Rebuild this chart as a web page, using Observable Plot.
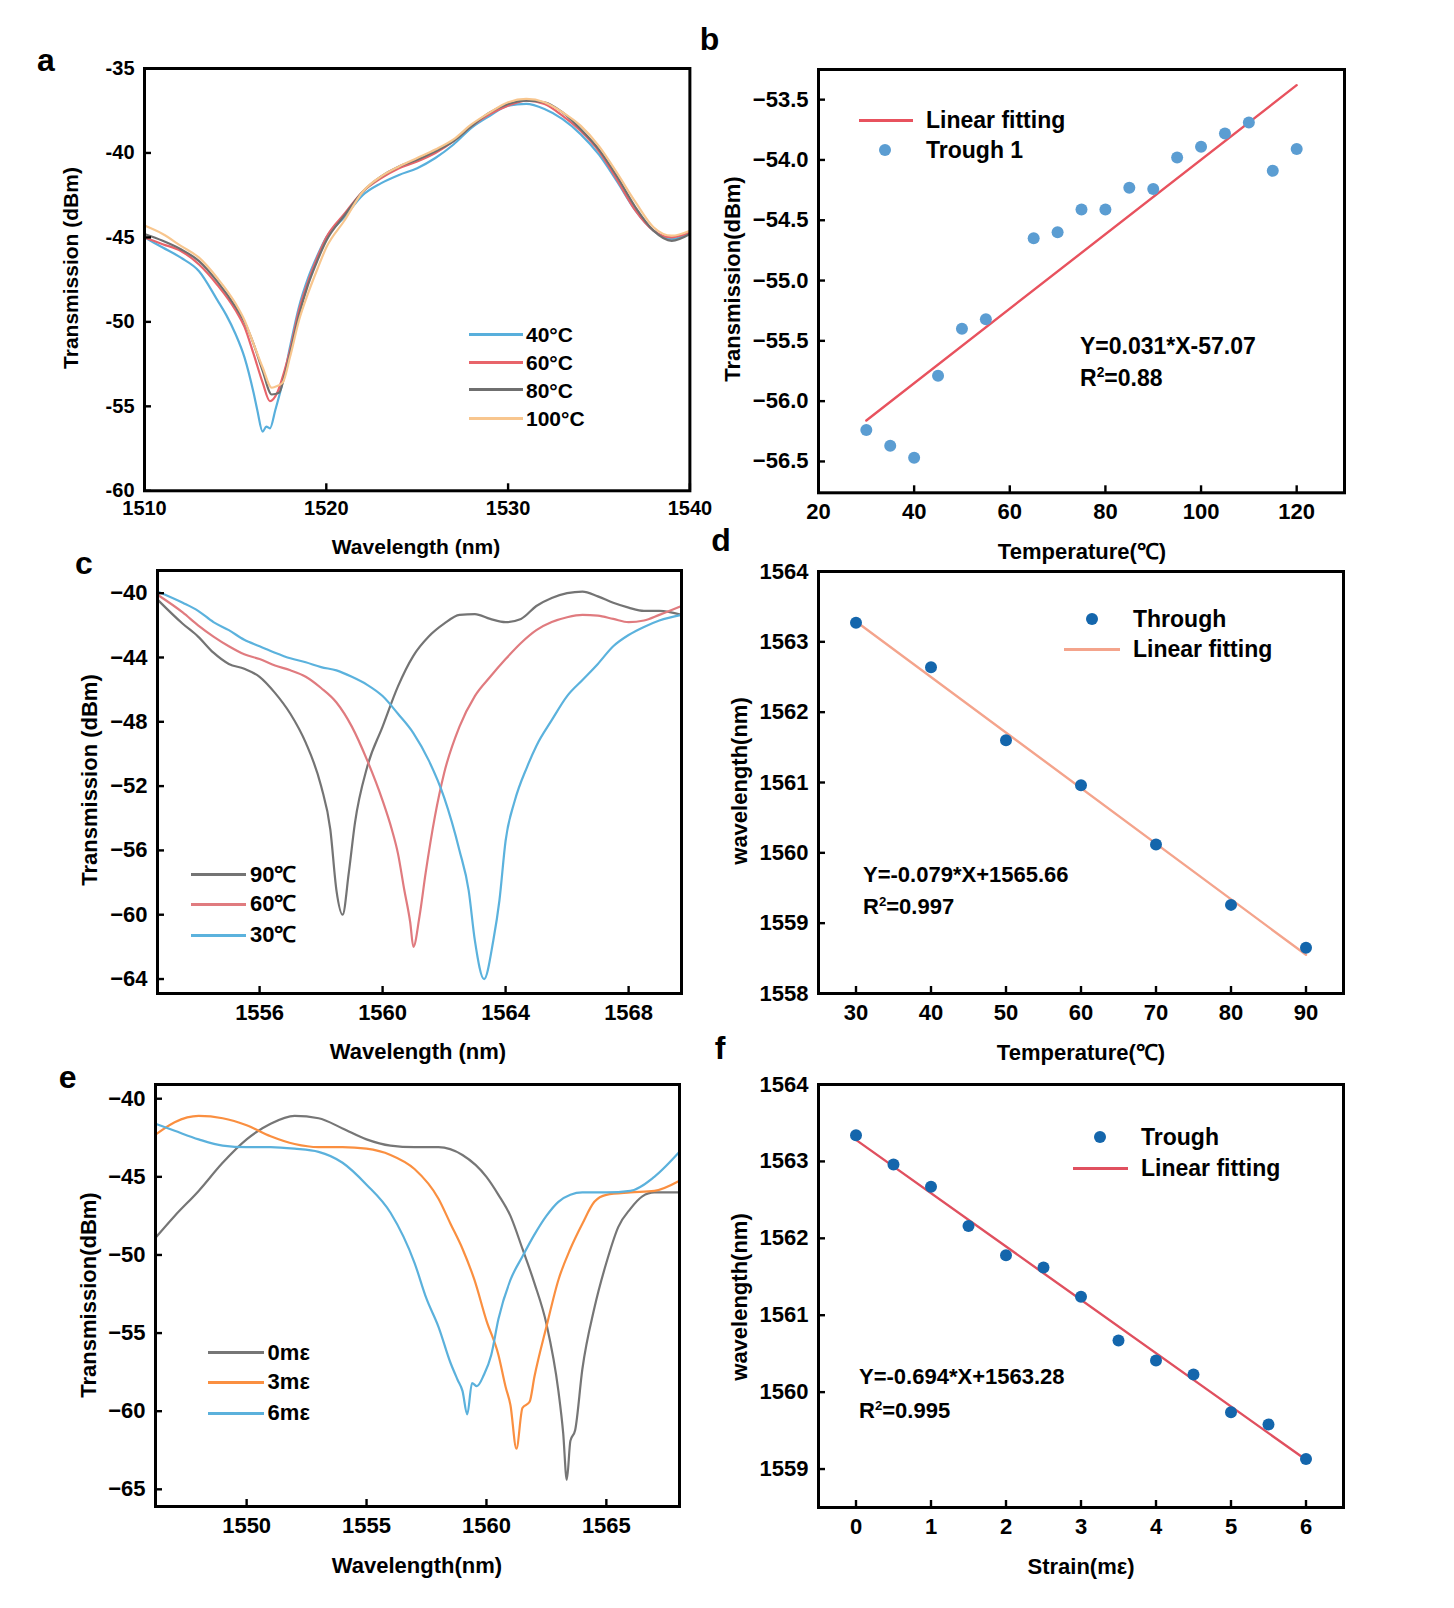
<!DOCTYPE html>
<html><head><meta charset="utf-8">
<script src="https://cdn.jsdelivr.net/npm/d3@7"></script>
<script src="https://cdn.jsdelivr.net/npm/@observablehq/plot@0.6"></script>
<style>
body{margin:0;background:#fff;}
#root{position:relative;width:1454px;height:1608px;overflow:hidden;font-family:"Liberation Sans",Arial,sans-serif;font-weight:bold;color:#000;}
.abs{position:absolute;white-space:nowrap;line-height:1;}
sup{font-size:0.6em;vertical-align:0.6em;line-height:0;}
</style></head><body><div id="root"></div>
<script>
// ---------- Panel a : spectra vs temperature ----------
const a40X = [1510,1511,1512,1513,1514,1514.5,1515,1515.5,1516,1516.2,1516.5,1516.7,1516.9,1517.2,1517.5,1517.7,1518,1518.5,1519,1519.5,1520,1521,1522,1523,1524,1525,1526,1527,1528,1529,1530,1531,1532,1533,1534,1535,1536,1537,1538,1539,1540];
const a40Y = [-45.0,-45.6,-46.2,-47.0,-48.7,-49.6,-50.7,-52.1,-54.2,-55.2,-56.5,-56.2,-56.3,-55.2,-54.0,-53.1,-51.5,-49.1,-47.4,-46.1,-45.0,-43.8,-42.5,-41.8,-41.3,-40.9,-40.3,-39.5,-38.5,-37.8,-37.2,-37.1,-37.4,-38.0,-38.9,-40.1,-41.7,-43.4,-44.6,-45.1,-44.7];
const a60X = [1510,1511,1512,1513,1514,1515,1515.5,1516,1516.5,1516.9,1517.3,1517.7,1518,1518.5,1519,1519.5,1520,1521,1522,1523,1524,1525,1526,1527,1528,1529,1530,1531,1532,1533,1534,1535,1536,1537,1538,1539,1540];
const a60Y = [-45.0,-45.4,-45.8,-46.6,-47.8,-49.3,-50.3,-51.9,-53.6,-54.7,-54.2,-52.9,-51.7,-49.3,-47.6,-46.2,-45.0,-43.6,-42.3,-41.5,-40.9,-40.5,-40.0,-39.3,-38.4,-37.7,-37.2,-36.9,-37.1,-37.8,-38.7,-39.9,-41.6,-43.4,-44.6,-45.0,-44.7];
const a80X = [1510,1511,1512,1513,1514,1515,1515.5,1516,1516.5,1517,1517.4,1517.7,1518,1518.5,1519,1519.5,1520,1521,1522,1523,1524,1525,1526,1527,1528,1529,1530,1531,1532,1533,1534,1535,1536,1537,1538,1539,1540];
const a80Y = [-44.8,-45.2,-45.7,-46.4,-47.6,-49.1,-50.0,-51.3,-52.9,-54.3,-54.2,-53.2,-51.9,-49.6,-47.8,-46.4,-45.2,-43.7,-42.3,-41.4,-40.8,-40.4,-39.9,-39.3,-38.4,-37.6,-37.1,-36.9,-37.0,-37.6,-38.6,-39.8,-41.4,-43.2,-44.6,-45.2,-44.8];
const a100X = [1510,1511,1512,1513,1514,1515,1515.5,1516,1516.5,1517,1517.3,1517.6,1518,1518.5,1519,1519.5,1520,1521,1522,1523,1524,1525,1526,1527,1528,1529,1530,1531,1532,1533,1534,1535,1536,1537,1538,1539,1540];
const a100Y = [-44.3,-44.8,-45.5,-46.2,-47.4,-48.9,-49.9,-51.3,-52.7,-53.9,-53.8,-53.6,-52.1,-49.9,-48.3,-46.9,-45.6,-44.0,-42.3,-41.4,-40.8,-40.3,-39.8,-39.2,-38.3,-37.6,-37.0,-36.8,-37.0,-37.6,-38.4,-39.6,-41.2,-42.9,-44.4,-44.9,-44.6];
const aLegend = ["40°C","60°C","80°C","100°C"];
const aXTicks = [1510,1520,1530,1540];
const aYTicks = [-60,-55,-50,-45,-40,-35];

// ---------- Panel b : trough 1 transmission vs temperature ----------
const bTemp = [30,35,40,45,50,55,65,70,75,80,85,90,95,100,105,110,115,120];
const bTrans = [-56.24,-56.37,-56.47,-55.79,-55.40,-55.32,-54.65,-54.60,-54.41,-54.41,-54.23,-54.24,-53.98,-53.89,-53.78,-53.69,-54.09,-53.91];
const bFitX = [30,120];
const bFitY = [-56.16,-53.38];
const bXTicks = [20,40,60,80,100,120];
const bYTicks = [-56.5,-56.0,-55.5,-55.0,-54.5,-54.0,-53.5];

// ---------- Panel c : spectra vs temperature ----------
const c90X = [1552.68,1553.5,1554,1554.5,1555,1555.5,1556,1556.5,1557,1557.5,1558,1558.3,1558.5,1558.7,1558.9,1559.1,1559.5,1560,1560.5,1561,1561.5,1562,1562.5,1563,1563.5,1564,1564.5,1565,1565.5,1566,1566.5,1567,1567.5,1568,1568.5,1569,1569.72];
const c90Y = [-40.4,-41.9,-42.7,-43.7,-44.4,-44.7,-45.2,-46.2,-47.5,-49.3,-52.0,-54.7,-58.5,-60.0,-57.4,-54.3,-50.8,-48.3,-45.8,-43.9,-42.7,-41.9,-41.35,-41.3,-41.6,-41.8,-41.6,-40.8,-40.3,-40.0,-39.9,-40.2,-40.6,-40.9,-41.1,-41.1,-41.35];
const c60X = [1552.68,1553.5,1554,1554.5,1555,1555.5,1556,1556.5,1557,1557.5,1558,1558.5,1559,1559.5,1560,1560.3,1560.5,1560.7,1560.9,1561.0,1561.2,1561.4,1561.7,1562,1562.5,1563,1563.5,1564,1564.5,1565,1565.5,1566,1566.5,1567,1567.5,1568,1568.5,1569,1569.72];
const c60Y = [-40.1,-41.2,-42.0,-42.7,-43.3,-43.8,-44.1,-44.5,-44.8,-45.2,-45.9,-46.8,-48.3,-50.4,-52.9,-54.7,-56.2,-58.4,-60.5,-62.0,-60.1,-57.4,-53.9,-51.2,-48.3,-46.4,-45.2,-44.1,-43.1,-42.3,-41.8,-41.5,-41.35,-41.4,-41.6,-41.8,-41.7,-41.35,-40.8];
const c30X = [1552.68,1553.5,1554,1554.5,1555,1555.5,1556,1556.5,1557,1557.5,1558,1558.5,1559,1559.5,1560,1560.5,1561,1561.5,1562,1562.5,1562.8,1563.0,1563.3,1563.6,1563.8,1564,1564.3,1564.7,1565,1565.5,1566,1566.5,1567,1567.5,1568,1568.5,1569,1569.72];
const c30Y = [-39.9,-40.6,-41.1,-41.8,-42.3,-42.9,-43.3,-43.7,-44.05,-44.3,-44.6,-44.8,-45.2,-45.7,-46.4,-47.5,-48.7,-50.4,-52.7,-56.0,-58.5,-61.6,-64.0,-61.6,-59.1,-55.4,-52.9,-50.8,-49.5,-47.9,-46.4,-45.4,-44.4,-43.3,-42.6,-42.1,-41.7,-41.35];
const cLegend = ["90℃","60℃","30℃"];
const cXTicks = [1556,1560,1564,1568];
const cYTicks = [-64,-60,-56,-52,-48,-44,-40];

// ---------- Panel d : trough wavelength vs temperature ----------
const dTemp = [30,40,50,60,70,80,90];
const dWl = [1563.27,1562.64,1561.60,1560.96,1560.12,1559.26,1558.65];
const dFitX = [30,90];
const dFitY = [1563.29,1558.55];
const dXTicks = [30,40,50,60,70,80,90];
const dYTicks = [1558,1559,1560,1561,1562,1563,1564];

// ---------- Panel e : spectra vs strain ----------
const e0X = [1546.2,1547,1548,1549,1550,1551,1552,1553,1554,1555,1556,1557,1558,1559,1560,1560.5,1561,1561.5,1562,1562.5,1563,1563.2,1563.35,1563.5,1563.7,1564,1564.5,1565,1565.5,1566,1566.5,1567,1568.05];
const e0Y = [-48.9,-47.5,-45.9,-44.1,-42.6,-41.6,-41.1,-41.25,-41.9,-42.6,-43.0,-43.1,-43.1,-43.6,-45.0,-46.15,-47.5,-49.6,-51.8,-54.4,-58.7,-61.4,-64.4,-61.9,-61.2,-57.3,-53.4,-50.5,-48.2,-47.05,-46.25,-46.0,-46.0];
const e3X = [1546.2,1547,1548,1549,1550,1551,1552,1553,1554,1555,1556,1557,1558,1558.5,1559,1559.5,1560,1560.5,1560.8,1561.0,1561.25,1561.5,1561.8,1562,1562.5,1563,1563.5,1564,1564.5,1565,1566,1567,1568.05];
const e3Y = [-42.3,-41.5,-41.1,-41.25,-41.7,-42.4,-42.9,-43.1,-43.1,-43.2,-43.6,-44.5,-46.4,-48.0,-49.6,-51.6,-54.2,-56.4,-58.45,-59.6,-62.4,-59.8,-59.4,-57.8,-54.6,-51.6,-49.6,-48.0,-46.6,-46.15,-46.0,-45.9,-45.25];
const e6X = [1546.2,1547,1548,1549,1550,1551,1552,1553,1554,1555,1556,1557,1557.5,1558,1558.5,1558.8,1559.0,1559.2,1559.4,1559.6,1559.9,1560.2,1560.5,1561,1561.5,1562,1562.5,1563,1563.5,1564,1565,1566,1567,1568.05];
const e6Y = [-41.6,-42.05,-42.6,-43.0,-43.1,-43.1,-43.2,-43.4,-44.1,-45.5,-47.3,-50.5,-52.8,-54.6,-56.9,-58.0,-58.7,-60.2,-58.2,-58.4,-57.65,-56.4,-54.1,-51.6,-50.1,-48.7,-47.5,-46.6,-46.15,-46.0,-46.0,-45.9,-45.0,-43.4];
const eLegend = ["0mε","3mε","6mε"];
const eXTicks = [1550,1555,1560,1565];
const eYTicks = [-65,-60,-55,-50,-45,-40];

// ---------- Panel f : trough wavelength vs strain ----------
const fStrain = [0,0.5,1,1.5,2,2.5,3,3.5,4,4.5,5,5.5,6];
const fWl = [1563.34,1562.96,1562.67,1562.16,1561.78,1561.62,1561.24,1560.67,1560.41,1560.23,1559.74,1559.58,1559.13];
const fFitX = [0,6];
const fFitY = [1563.28,1559.12];
const fXTicks = [0,1,2,3,4,5,6];
const fYTicks = [1559,1560,1561,1562,1563,1564];

// ---------- helpers ----------
const root = document.getElementById("root");
const FONT = '"Liberation Sans", Arial, "Noto Sans CJK SC", sans-serif';
const pairs = (xs, ys) => xs.map((x, i) => ({x, y: ys[i]}));

function text(html, x, y, {size = 22, anchor = "middle", rot = false} = {}) {
  const d = document.createElement("div");
  d.className = "abs";
  d.innerHTML = html;
  d.style.left = x + "px";
  d.style.top = y + "px";
  d.style.fontSize = size + "px";
  d.style.transform = rot ? "translate(-50%,-50%) rotate(-90deg)"
    : anchor === "start" ? "translate(0,-50%)" : "translate(-50%,-50%)";
  root.appendChild(d);
}
function swLine(x1, x2, y, color, w = 3) {
  const d = document.createElement("div");
  d.className = "abs";
  Object.assign(d.style, {left: x1 + "px", top: (y - w / 2) + "px", width: (x2 - x1) + "px", height: w + "px", background: color});
  root.appendChild(d);
}
function swDot(cx, cy, r, color) {
  const d = document.createElement("div");
  d.className = "abs";
  Object.assign(d.style, {left: (cx - r) + "px", top: (cy - r) + "px", width: 2 * r + "px", height: 2 * r + "px", borderRadius: "50%", background: color});
  root.appendChild(d);
}

function panel({frame: [L, T, R, B], xd, yd, xt, yt, fx, fy, marks, tickSize = 22, padX = 11}) {
  const mL = 130, mT = 20, mR = 20, mB = 60;
  const fw = R - L, fh = B - T;
  const svg = Plot.plot({
    width: fw + mL + mR, height: fh + mT + mB,
    marginLeft: mL, marginTop: mT, marginRight: mR, marginBottom: mB,
    x: {domain: xd}, y: {domain: yd},
    style: {fontFamily: FONT, fontSize: tickSize + "px", fontWeight: "bold", color: "#000", background: "none", overflow: "visible"},
    marks: [
      ...marks,
      Plot.tickX(xt, {x: d => d, insetTop: fh - 7, strokeWidth: 2.4, stroke: "#000"}),
      Plot.tickY(yt, {y: d => d, insetRight: fw - 7, strokeWidth: 2.4, stroke: "#000"}),
      Plot.axisX(xt, {tickSize: 0, tickPadding: padX, label: null, tickFormat: fx}),
      Plot.axisY(yt, {tickSize: 0, tickPadding: 10, label: null, tickFormat: fy}),
      Plot.frame({stroke: "#000", strokeWidth: 3})
    ]
  });
  svg.style.position = "absolute";
  svg.style.left = (L - mL) + "px";
  svg.style.top = (T - mT) + "px";
  root.appendChild(svg);
}
const lineMark = (xs, ys, color, w = 2.2) => Plot.line(pairs(xs, ys), {x: "x", y: "y", stroke: color, strokeWidth: w, curve: "monotone-x"});
const fitMark = (xs, ys, color, w = 2.4) => Plot.line(pairs(xs, ys), {x: "x", y: "y", stroke: color, strokeWidth: w});
const plain = d => String(d);
const minusInt = d3.format("d");

// ---------- a ----------
const aCol = ["#58afdc", "#e8646a", "#6f6f6f", "#f8c68e"];
panel({
  frame: [143.6, 67.7, 689, 490], xd: [1510, 1540], yd: [-60, -35], xt: aXTicks, yt: aYTicks,
  fx: plain, fy: plain, tickSize: 20, padX: 10,
  marks: [lineMark(a40X, a40Y, aCol[0]), lineMark(a60X, a60Y, aCol[1]), lineMark(a80X, a80Y, aCol[2]), lineMark(a100X, a100Y, aCol[3])]
});
text("a", 46, 59.5, {size: 32});
text("Transmission (dBm)", 70, 268, {rot: true, size: 21});
text("Wavelength (nm)", 416, 545.5, {size: 21});
[334, 362, 389.6, 418].forEach((y, i) => { swLine(468.6, 523, y, aCol[i]); text(aLegend[i], 526, y, {anchor: "start", size: 21}); });

// ---------- b ----------
panel({
  frame: [818, 68.7, 1344, 492], xd: [20, 130], yd: [-56.76, -53.25], xt: bXTicks, yt: bYTicks,
  fx: minusInt, fy: d3.format(".1f"),
  marks: [
    fitMark(bFitX, bFitY, "#e8525e"),
    Plot.dot(pairs(bTemp, bTrans), {x: "x", y: "y", r: 6, fill: "#5b9dd2"})
  ]
});
text("b", 709.6, 39, {size: 32});
text("Transmission(dBm)", 733, 279, {rot: true, size: 22});
text("Temperature(℃)", 1082, 551.7, {size: 22});
swLine(859, 912.6, 120, "#e8525e");
text("Linear fitting", 926, 120, {anchor: "start", size: 23});
swDot(885, 149.7, 6, "#5b9dd2");
text("Trough 1", 926, 149.7, {anchor: "start", size: 23});
text("Y=0.031*X-57.07", 1080, 345.6, {anchor: "start", size: 23});
text("R<sup>2</sup>=0.88", 1080, 378, {anchor: "start", size: 23});

// ---------- c ----------
const cCol = ["#747474", "#e07b7f", "#5bb2dd"];
panel({
  frame: [157, 570, 681, 993], xd: [1552.68, 1569.72], yd: [-64.9, -38.59], xt: cXTicks, yt: cYTicks,
  fx: plain, fy: minusInt,
  marks: [lineMark(c90X, c90Y, cCol[0]), lineMark(c60X, c60Y, cCol[1]), lineMark(c30X, c30Y, cCol[2])]
});
text("c", 84, 563, {size: 32});
text("Transmission (dBm)", 90, 780, {rot: true, size: 22});
text("Wavelength (nm)", 418, 1052, {size: 22});
[874.7, 904.4, 935].forEach((y, i) => { swLine(190.7, 246, y, cCol[i]); text(cLegend[i], 250, y, {anchor: "start", size: 22}); });

// ---------- d ----------
panel({
  frame: [818, 571, 1343, 993], xd: [25, 95], yd: [1558, 1564], xt: dXTicks, yt: dYTicks,
  fx: plain, fy: plain,
  marks: [
    fitMark(dFitX, dFitY, "#f4a48c"),
    Plot.dot(pairs(dTemp, dWl), {x: "x", y: "y", r: 6, fill: "#1466ac"})
  ]
});
text("d", 721, 540, {size: 32});
text("wavelength(nm)", 740, 781, {rot: true, size: 22});
text("Temperature(℃)", 1081, 1053, {size: 22});
swDot(1092, 619, 6, "#1466ac");
text("Through", 1133, 619, {anchor: "start", size: 23});
swLine(1064, 1120, 649, "#f4a48c");
text("Linear fitting", 1133, 649, {anchor: "start", size: 23});
text("Y=-0.079*X+1565.66", 863, 874.7, {anchor: "start", size: 22});
text("R<sup>2</sup>=0.997", 863, 906.5, {anchor: "start", size: 22});

// ---------- e ----------
const eCol = ["#767676", "#fa8f40", "#5bb1dc"];
panel({
  frame: [155, 1084, 679, 1506], xd: [1546.2, 1568.05], yd: [-66.1, -39.09], xt: eXTicks, yt: eYTicks,
  fx: plain, fy: minusInt,
  marks: [lineMark(e0X, e0Y, eCol[0]), lineMark(e3X, e3Y, eCol[1]), lineMark(e6X, e6Y, eCol[2])]
});
text("e", 67.7, 1077, {size: 32});
text("Transmission(dBm)", 89, 1295, {rot: true, size: 22});
text("Wavelength(nm)", 417, 1566, {size: 22});
[1352.5, 1382, 1413].forEach((y, i) => { swLine(208, 263.5, y, eCol[i]); text(eLegend[i], 267.6, y, {anchor: "start", size: 22}); });

// ---------- f ----------
panel({
  frame: [818, 1084, 1343, 1507], xd: [-0.5, 6.5], yd: [1558.5, 1564], xt: fXTicks, yt: fYTicks,
  fx: plain, fy: plain,
  marks: [
    fitMark(fFitX, fFitY, "#e0505f"),
    Plot.dot(pairs(fStrain, fWl), {x: "x", y: "y", r: 6, fill: "#1466ac"})
  ]
});
text("f", 720, 1048, {size: 32});
text("wavelength(nm)", 740, 1297, {rot: true, size: 22});
text("Strain(mε)", 1081, 1567, {size: 22});
swDot(1100, 1137, 6, "#1466ac");
text("Trough", 1141, 1137, {anchor: "start", size: 23});
swLine(1072.6, 1128, 1168, "#e0505f");
text("Linear fitting", 1141, 1168, {anchor: "start", size: 23});
text("Y=-0.694*X+1563.28", 859, 1377, {anchor: "start", size: 22});
text("R<sup>2</sup>=0.995", 859, 1411, {anchor: "start", size: 22});
</script>
</body></html>
